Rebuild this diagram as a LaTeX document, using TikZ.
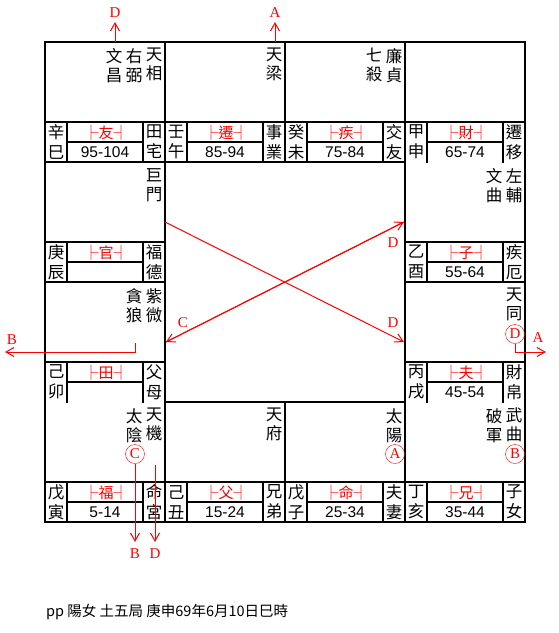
\documentclass[tikz,border=0pt]{standalone}
\usepackage{fontspec}
\setmainfont{Liberation Sans}
\newfontfamily\cjk{Noto Sans CJK TC}
\newfontfamily\letterfont{Liberation Serif}
\usetikzlibrary{arrows.meta}

% one palace strip: id, left x, top y, stem/branch, red name, ages, palace name
\newcommand{\palace}[7]{%
  \draw[cellline] (#2,#3+80) -- ++(120,0);
  \draw[cellline] (#2+22,#3+100) -- ++(76,0);
  \draw[cellline] (#2+22,#3+80) -- ++(0,40);
  \draw[cellline] (#2+98,#3+80) -- ++(0,40);
  \node[twochar] (#1-stem) at (#2+11,#3+100) {#4};
  \node[redname] (#1-name) at (#2+61,#3+91) {├#5┤};
  \node[ages] (#1-ages) at (#2+60,#3+110) {#6};
  \node[twochar] (#1-pal) at (#2+109,#3+100) {#7};
}

\begin{document}
\begin{tikzpicture}[x=1pt, y=-1pt,
  cellline/.style={line width=2pt, line cap=rect},
  starname/.style={font=\cjk\fontsize{16.5}{19}\selectfont, align=center, anchor=north, inner sep=0pt},
  twochar/.style={font=\cjk\fontsize{16.5}{20}\selectfont, align=center, inner sep=0pt},
  redname/.style={font=\cjk\fontsize{15}{15}\selectfont, text=red, inner sep=0pt},
  ages/.style={font=\fontsize{15.5}{15.5}\selectfont, inner sep=0pt},
  hua/.style={circle, draw=red, text=red, minimum size=19pt, inner sep=0pt, font=\letterfont\fontsize{15}{15}\selectfont},
  lbl/.style={text=red, inner sep=0pt, font=\letterfont\fontsize{15}{15}\selectfont},
  arr/.style={red, line width=1pt, -{Straight Barb[length=8pt,width=9pt]}}
]
\useasboundingbox (0,0) rectangle (558,633);

% frame
\draw[cellline] (45,42) rectangle (525,522);
\draw[cellline] (165,162) rectangle (405,402);
\draw[cellline] (165,42) -- (165,162) (285,42) -- (285,162) (405,42) -- (405,162);
\draw[cellline] (165,402) -- (165,522) (285,402) -- (285,522) (405,402) -- (405,522);
\draw[cellline] (45,162) -- (165,162) (45,282) -- (165,282);
\draw[cellline] (405,282) -- (525,282);

% palaces
\palace{si}{45}{42}{辛\\巳}{友}{95-104}{田\\宅}
\palace{wu}{165}{42}{壬\\午}{遷}{85-94}{事\\業}
\palace{wei}{285}{42}{癸\\未}{疾}{75-84}{交\\友}
\palace{shen}{405}{42}{甲\\申}{財}{65-74}{遷\\移}
\palace{chen}{45}{162}{庚\\辰}{官}{}{福\\德}
\palace{you}{405}{162}{乙\\酉}{子}{55-64}{疾\\厄}
\palace{mao}{45}{282}{己\\卯}{田}{}{父\\母}
\palace{xu}{405}{282}{丙\\戌}{夫}{45-54}{財\\帛}
\palace{yin}{45}{402}{戊\\寅}{福}{5-14}{命\\宮}
\palace{chou}{165}{402}{己\\丑}{父}{15-24}{兄\\弟}
\palace{zi}{285}{402}{戊\\子}{命}{25-34}{夫\\妻}
\palace{hai}{405}{402}{丁\\亥}{兄}{35-44}{子\\女}

% stars
\node[starname] (si-s1) at (154,48) {天\\相};
\node[starname] (si-s2) at (134,48) {右\\弼};
\node[starname] (si-s3) at (114,48) {文\\昌};
\node[starname] (wu-s1) at (274,48) {天\\梁};
\node[starname] (wei-s1) at (394,48) {廉\\貞};
\node[starname] (wei-s2) at (374,48) {七\\殺};
\node[starname] (chen-s1) at (154,168) {巨\\門};
\node[starname] (you-s1) at (514,168) {左\\輔};
\node[starname] (you-s2) at (494,168) {文\\曲};
\node[starname] (mao-s1) at (154,288) {紫\\微};
\node[starname] (mao-s2) at (134,288) {貪\\狼};
\node[starname] (xu-s1) at (514,288) {天\\同};
\node[starname] (yin-s1) at (154,408) {天\\機};
\node[starname] (yin-s2) at (134,408) {太\\陰};
\node[starname] (chou-s1) at (274,408) {天\\府};
\node[starname] (zi-s1) at (394,408) {太\\陽};
\node[starname] (hai-s1) at (514,408) {武\\曲};
\node[starname] (hai-s2) at (494,408) {破\\軍};

% transformation marks
\node[hua] (xu-hua) at (515,334) {D};
\node[hua] (yin-hua) at (135,454) {C};
\node[hua] (zi-hua) at (395,454) {A};
\node[hua] (hai-hua) at (515,454) {B};

% arrow ends
\coordinate (si-top) at (115,42);
\coordinate (si-out) at (115,22);
\coordinate (wu-top) at (275,42);
\coordinate (wu-out) at (275,22);
\coordinate (mao-a) at (135,343);
\coordinate (mao-b) at (135,352);
\coordinate (mao-out) at (5,352);
\coordinate (xu-out) at (546,352);
\coordinate (yin-out) at (135,542);
\coordinate (yin-top) at (155,465);
\coordinate (yin-out2) at (155,542);
\coordinate (chen-in) at (165,222);
\coordinate (xu-in) at (404,342);
\coordinate (mao-in) at (166,342);
\coordinate (you-in) at (404,222);

\draw[arr] (si-top) -- (si-out);
\draw[arr] (wu-top) -- (wu-out);
\draw[arr] (mao-a) -- (mao-b) -- (mao-out);
\draw[arr] (xu-hua.south) |- (xu-out);
\draw[arr] (yin-hua.south) -- (yin-out);
\draw[arr] (yin-top) -- (yin-out2);
\draw[arr] (chen-in) -- (xu-in);
\draw[arr] (mao-in) -- (you-in);
\draw[arr] (you-in) -- (mao-in);

% arrow labels
\node[lbl] (si-lbl) at (115,13) {D};
\node[lbl] (wu-lbl) at (275,13) {A};
\node[lbl] (mao-lbl) at (12,340) {B};
\node[lbl] (xu-lbl) at (538,338) {A};
\node[lbl] (yin-lbl) at (135,554) {B};
\node[lbl] (yin-lbl2) at (155,554) {D};
\node[lbl] (you-lbl) at (393,243) {D};
\node[lbl] (xu-lbl2) at (393,323) {D};
\node[lbl] (mao-lbl2) at (183,323) {C};

% chart info
\node[font=\cjk\fontsize{14.5}{14.5}\selectfont, anchor=west, inner sep=0pt] (info) at (46,612) {pp 陽女 土五局 庚申69年6月10日巳時};
\end{tikzpicture}
\end{document}
